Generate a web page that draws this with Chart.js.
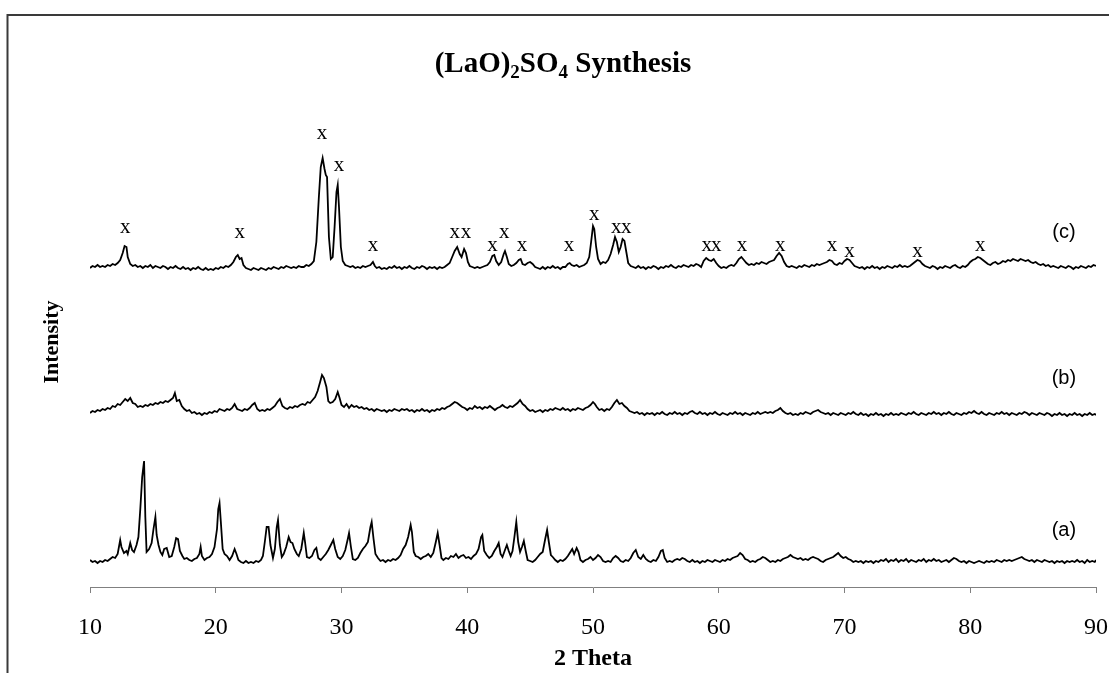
<!DOCTYPE html>
<html>
<head>
<meta charset="utf-8">
<script src="https://cdn.jsdelivr.net/npm/chart.js@4.4.0/dist/chart.umd.min.js"></script>
<style>
  body { margin: 0; background: #fff; }
</style>
</head>
<body>
<canvas id="xrdChart" width="1109" height="673"></canvas>
<script>
// 2-theta / intensity pairs (intensity already includes the vertical offset of each pattern)
const seriesA = [
  [10.0,27],[10.2,25],[10.4,26],[10.6,24],[10.8,26],[11.0,25],[11.2,27],[11.4,26],[11.6,28],[11.8,30],
  [12.0,29],[12.2,33],[12.4,47],[12.5,40],[12.7,34],[12.9,36],[13.0,33],[13.2,44],[13.35,37],[13.5,35],
  [13.7,42],[13.85,50],[14.0,78],[14.15,110],[14.3,126],[14.4,70],[14.5,35],[14.7,38],[14.9,44],[15.05,58],
  [15.2,70],[15.3,52],[15.45,42],[15.6,35],[15.75,32],[15.9,38],[16.1,39],[16.3,30],[16.5,31],[16.7,40],
  [16.85,49],[17.0,48],[17.15,36],[17.35,31],[17.5,28],[17.7,29],[17.9,27],[18.1,26],[18.3,28],[18.5,29],
  [18.7,33],[18.8,40],[18.9,31],[19.1,27],[19.3,29],[19.5,30],[19.7,33],[19.9,40],[20.1,58],[20.2,78],
  [20.3,84],[20.4,66],[20.55,38],[20.7,33],[20.9,31],[21.1,27],[21.3,31],[21.5,38],[21.65,33],[21.8,27],
  [22.0,25],[22.2,24],[22.4,26],[22.6,24],[22.8,25],[23.0,24],[23.2,26],[23.4,25],[23.6,27],[23.75,31],
  [23.9,45],[24.05,60],[24.2,60],[24.35,42],[24.55,29],[24.7,38],[24.85,60],[24.95,67],[25.1,42],[25.25,30],
  [25.4,33],[25.6,40],[25.8,50],[25.95,45],[26.1,44],[26.25,38],[26.45,33],[26.6,31],[26.8,38],[27.0,54],
  [27.1,45],[27.25,30],[27.45,29],[27.65,31],[27.85,37],[28.0,39],[28.15,29],[28.35,27],[28.55,30],[28.75,33],
  [28.95,37],[29.15,42],[29.35,47],[29.5,38],[29.7,30],[29.9,28],[30.1,31],[30.3,37],[30.5,48],[30.6,54],
  [30.75,40],[30.9,28],[31.1,27],[31.3,29],[31.5,34],[31.7,38],[31.9,41],[32.1,45],[32.3,60],[32.4,65],
  [32.55,48],[32.7,33],[32.9,29],[33.1,26],[33.3,27],[33.5,25],[33.7,27],[33.9,26],[34.1,28],[34.3,27],
  [34.5,29],[34.7,32],[34.9,38],[35.1,42],[35.3,50],[35.5,62],[35.6,55],[35.75,35],[35.9,31],[36.1,30],
  [36.3,28],[36.5,30],[36.7,31],[36.9,33],[37.1,30],[37.3,34],[37.5,45],[37.65,54],[37.8,42],[37.95,29],
  [38.1,27],[38.3,29],[38.5,28],[38.7,31],[38.9,30],[39.1,33],[39.3,29],[39.5,31],[39.7,32],[39.9,29],
  [40.1,30],[40.3,28],[40.5,31],[40.7,33],[40.9,38],[41.1,50],[41.2,52],[41.35,36],[41.55,32],[41.75,29],
  [41.95,31],[42.15,36],[42.35,40],[42.5,44],[42.65,33],[42.8,30],[43.0,37],[43.15,42],[43.3,36],[43.45,31],
  [43.6,36],[43.75,50],[43.9,65],[44.05,45],[44.2,35],[44.35,40],[44.5,46],[44.65,36],[44.8,27],[45.0,26],
  [45.2,25],[45.4,27],[45.6,30],[45.8,33],[46.0,35],[46.2,48],[46.35,57],[46.5,44],[46.65,32],[46.8,30],
  [47.0,27],[47.2,25],[47.4,27],[47.6,26],[47.8,28],[48.0,31],[48.2,35],[48.35,38],[48.5,33],[48.7,39],
  [48.85,35],[49.0,27],[49.2,25],[49.4,27],[49.6,28],[49.8,30],[50.0,27],[50.2,29],[50.4,32],[50.6,30],
  [50.8,26],[51.0,25],[51.2,26],[51.4,25],[51.6,29],[51.8,31],[52.0,29],[52.2,26],[52.4,25],[52.6,27],
  [52.8,26],[53.0,29],[53.2,34],[53.4,37],[53.6,30],[53.8,28],[54.0,32],[54.2,28],[54.4,26],[54.6,25],
  [54.8,27],[55.0,26],[55.2,30],[55.4,36],[55.55,37],[55.7,29],[55.9,25],[56.1,26],[56.3,25],[56.5,27],
  [56.7,28],[56.9,27],[57.1,29],[57.3,28],[57.5,26],[57.7,25],[57.9,27],[58.1,25],[58.3,26],[58.5,24],
  [58.7,26],[58.9,25],[59.1,27],[59.3,26],[59.5,25],[59.7,27],[59.9,26],[60.1,25],[60.3,27],[60.5,26],
  [60.7,28],[60.9,27],[61.1,29],[61.3,30],[61.5,31],[61.7,34],[61.9,32],[62.1,28],[62.3,27],[62.5,25],
  [62.7,26],[62.9,25],[63.1,27],[63.3,28],[63.5,30],[63.7,29],[63.9,27],[64.1,25],[64.3,26],[64.5,25],
  [64.7,27],[64.9,26],[65.1,28],[65.3,29],[65.5,30],[65.7,32],[65.9,30],[66.1,29],[66.3,28],[66.5,29],
  [66.7,27],[66.9,28],[67.1,27],[67.3,29],[67.5,30],[67.7,29],[67.9,28],[68.1,26],[68.3,25],[68.5,27],
  [68.7,28],[68.9,29],[69.1,30],[69.3,32],[69.5,34],[69.7,31],[69.9,29],[70.1,30],[70.3,28],[70.5,27],
  [70.7,25],[70.9,26],[71.1,25],[71.3,26],[71.5,24],[71.7,26],[71.9,25],[72.1,26],[72.3,24],[72.5,26],
  [72.7,25],[72.9,27],[73.1,26],[73.3,28],[73.5,25],[73.7,27],[73.9,26],[74.1,28],[74.3,25],[74.5,27],
  [74.7,26],[74.9,28],[75.1,25],[75.3,27],[75.5,26],[75.7,25],[75.9,27],[76.1,26],[76.3,28],[76.5,25],
  [76.7,27],[76.9,26],[77.1,28],[77.3,26],[77.5,27],[77.7,25],[77.9,26],[78.1,27],[78.3,25],[78.5,27],
  [78.7,29],[78.9,28],[79.1,26],[79.3,25],[79.5,26],[79.7,24],[79.9,26],[80.1,25],[80.3,24],[80.5,25],
  [80.7,26],[80.9,25],[81.1,24],[81.3,26],[81.5,25],[81.7,26],[81.9,25],[82.1,27],[82.3,26],[82.5,25],
  [82.7,27],[82.9,26],[83.1,27],[83.3,26],[83.5,27],[83.7,28],[83.9,29],[84.1,30],[84.3,28],[84.5,27],
  [84.7,26],[84.9,27],[85.1,25],[85.3,27],[85.5,26],[85.7,25],[85.9,27],[86.1,26],[86.3,25],[86.5,26],
  [86.7,24],[86.9,26],[87.1,25],[87.3,26],[87.5,24],[87.7,26],[87.9,25],[88.1,26],[88.3,25],[88.5,27],
  [88.7,25],[88.9,26],[89.1,24],[89.3,27],[89.5,25],[89.7,26],[89.9,25],[90.0,27]
];

const seriesB = [
  [10.0,174],[10.2,176],[10.4,175],[10.6,177],[10.8,176],[11.0,178],[11.2,177],[11.4,179],[11.6,178],[11.8,181],
  [12.0,180],[12.2,183],[12.4,182],[12.6,185],[12.8,188],[13.0,186],[13.2,189],[13.4,184],[13.6,183],[13.8,180],
  [14.0,181],[14.2,180],[14.4,182],[14.6,181],[14.8,183],[15.0,182],[15.2,184],[15.4,183],[15.6,185],[15.8,184],
  [16.0,186],[16.2,185],[16.4,187],[16.6,189],[16.75,194],[16.9,186],[17.1,187],[17.3,181],[17.5,178],[17.7,176],
  [17.9,177],[18.1,174],[18.3,175],[18.5,173],[18.7,174],[18.9,172],[19.1,174],[19.3,173],[19.5,175],[19.7,174],
  [19.9,176],[20.1,175],[20.3,178],[20.5,177],[20.7,176],[20.9,178],[21.1,177],[21.3,179],[21.5,183],[21.7,178],
  [21.9,177],[22.1,176],[22.3,178],[22.5,177],[22.7,179],[22.9,182],[23.1,184],[23.3,178],[23.5,176],[23.7,177],
  [23.9,176],[24.1,178],[24.3,177],[24.5,179],[24.7,181],[24.9,185],[25.1,188],[25.3,181],[25.5,179],[25.7,178],
  [25.9,180],[26.1,179],[26.3,181],[26.5,180],[26.7,182],[26.9,183],[27.1,182],[27.3,185],[27.5,184],[27.7,187],
  [27.9,190],[28.1,196],[28.3,205],[28.45,212],[28.6,209],[28.8,200],[28.95,186],[29.1,184],[29.3,185],[29.5,188],
  [29.7,195],[29.85,189],[30.0,182],[30.2,180],[30.4,183],[30.6,179],[30.8,182],[31.0,180],[31.2,181],[31.4,179],
  [31.6,180],[31.8,178],[32.0,179],[32.2,177],[32.4,178],[32.6,176],[32.8,178],[33.0,177],[33.2,176],[33.4,177],
  [33.6,175],[33.8,177],[34.0,176],[34.2,178],[34.4,177],[34.6,176],[34.8,178],[35.0,177],[35.2,178],[35.4,176],
  [35.6,177],[35.8,175],[36.0,177],[36.2,176],[36.4,178],[36.6,176],[36.8,177],[37.0,175],[37.2,177],[37.4,176],
  [37.6,178],[37.8,177],[38.0,179],[38.2,178],[38.4,180],[38.6,181],[38.8,183],[39.0,185],[39.2,184],[39.4,182],
  [39.6,180],[39.8,179],[40.0,177],[40.2,179],[40.4,178],[40.6,181],[40.8,179],[41.0,180],[41.2,178],[41.4,180],
  [41.6,179],[41.8,181],[42.0,179],[42.2,177],[42.4,179],[42.6,180],[42.8,182],[43.0,180],[43.2,179],[43.4,181],
  [43.6,180],[43.8,182],[44.0,184],[44.2,187],[44.4,183],[44.6,181],[44.8,178],[45.0,176],[45.2,177],[45.4,175],
  [45.6,176],[45.8,177],[46.0,175],[46.2,177],[46.4,176],[46.6,178],[46.8,177],[47.0,179],[47.2,178],[47.4,177],
  [47.6,179],[47.8,177],[48.0,178],[48.2,176],[48.4,178],[48.6,177],[48.8,179],[49.0,178],[49.2,177],[49.4,179],
  [49.6,180],[49.8,182],[50.0,185],[50.15,183],[50.3,180],[50.5,177],[50.7,178],[50.9,176],[51.1,178],[51.3,177],
  [51.5,180],[51.7,184],[51.9,187],[52.1,183],[52.3,184],[52.5,181],[52.7,179],[52.9,176],[53.1,175],[53.3,174],
  [53.5,175],[53.7,173],[53.9,174],[54.1,172],[54.3,174],[54.5,173],[54.7,174],[54.9,172],[55.1,174],[55.3,173],
  [55.5,175],[55.7,173],[55.9,172],[56.1,174],[56.3,173],[56.5,175],[56.7,173],[56.9,174],[57.1,172],[57.3,174],
  [57.5,173],[57.7,175],[57.9,176],[58.1,174],[58.3,173],[58.5,175],[58.7,173],[58.9,174],[59.1,172],[59.3,174],
  [59.5,173],[59.7,175],[59.9,173],[60.1,172],[60.3,174],[60.5,173],[60.7,172],[60.9,174],[61.1,173],[61.3,175],
  [61.5,173],[61.7,174],[61.9,172],[62.1,174],[62.3,173],[62.5,172],[62.7,174],[62.9,173],[63.1,175],[63.3,173],
  [63.5,174],[63.7,175],[63.9,174],[64.1,175],[64.3,174],[64.5,176],[64.7,177],[64.9,179],[65.1,176],[65.3,174],
  [65.5,173],[65.7,174],[65.9,172],[66.1,173],[66.3,172],[66.5,174],[66.7,173],[66.9,175],[67.1,174],[67.3,173],
  [67.5,175],[67.7,176],[67.9,177],[68.1,175],[68.3,174],[68.5,173],[68.7,174],[68.9,172],[69.1,174],[69.3,173],
  [69.5,172],[69.7,174],[69.9,173],[70.1,172],[70.3,174],[70.5,173],[70.7,175],[70.9,173],[71.1,172],[71.3,174],
  [71.5,172],[71.7,173],[71.9,171],[72.1,173],[72.3,172],[72.5,174],[72.7,172],[72.9,173],[73.1,171],[73.3,173],
  [73.5,172],[73.7,174],[73.9,172],[74.1,173],[74.3,172],[74.5,174],[74.7,173],[74.9,172],[75.1,174],[75.3,173],
  [75.5,175],[75.7,173],[75.9,172],[76.1,174],[76.3,173],[76.5,172],[76.7,174],[76.9,173],[77.1,175],[77.3,173],
  [77.5,174],[77.7,172],[77.9,174],[78.1,173],[78.3,175],[78.5,173],[78.7,172],[78.9,174],[79.1,173],[79.3,172],
  [79.5,174],[79.7,173],[79.9,175],[80.1,174],[80.3,176],[80.5,174],[80.7,173],[80.9,175],[81.1,173],[81.3,172],
  [81.5,174],[81.7,173],[81.9,172],[82.1,174],[82.3,173],[82.5,175],[82.7,173],[82.9,174],[83.1,172],[83.3,174],
  [83.5,173],[83.7,172],[83.9,174],[84.1,173],[84.3,175],[84.5,174],[84.7,172],[84.9,174],[85.1,173],[85.3,172],
  [85.5,174],[85.7,173],[85.9,172],[86.1,174],[86.3,173],[86.5,171],[86.7,173],[86.9,172],[87.1,174],[87.3,172],
  [87.5,173],[87.7,171],[87.9,173],[88.1,172],[88.3,174],[88.5,172],[88.7,173],[88.9,171],[89.1,173],[89.3,172],
  [89.5,174],[89.7,172],[89.9,173],[90.0,172]
];

const seriesC = [
  [10.0,319],[10.2,321],[10.4,320],[10.6,322],[10.8,320],[11.0,321],[11.2,320],[11.4,322],[11.6,321],[11.8,323],
  [12.0,322],[12.2,324],[12.4,327],[12.6,334],[12.75,341],[12.9,340],[13.0,330],[13.2,323],[13.4,321],[13.6,322],
  [13.8,320],[14.0,321],[14.2,319],[14.4,321],[14.6,320],[14.8,322],[15.0,319],[15.2,321],[15.4,320],[15.6,319],
  [15.8,321],[16.0,320],[16.2,318],[16.4,320],[16.6,319],[16.8,321],[17.0,319],[17.2,318],[17.4,320],[17.6,318],
  [17.8,319],[18.0,317],[18.2,319],[18.4,318],[18.6,320],[18.8,318],[19.0,317],[19.2,319],[19.4,317],[19.6,318],
  [19.8,317],[20.0,319],[20.2,318],[20.4,320],[20.6,319],[20.8,321],[21.0,320],[21.2,322],[21.4,325],[21.6,330],
  [21.75,332],[21.9,328],[22.05,329],[22.2,322],[22.4,319],[22.6,318],[22.8,317],[23.0,319],[23.2,318],[23.4,317],
  [23.6,319],[23.8,318],[24.0,317],[24.2,319],[24.4,318],[24.6,320],[24.8,319],[25.0,318],[25.2,320],[25.4,319],
  [25.6,321],[25.8,320],[26.0,319],[26.2,320],[26.4,319],[26.6,321],[26.8,320],[27.0,320],[27.2,322],[27.4,321],
  [27.6,323],[27.8,326],[28.0,345],[28.2,390],[28.35,420],[28.5,429],[28.65,418],[28.75,412],[28.85,410],[29.0,350],
  [29.15,328],[29.3,330],[29.45,360],[29.6,395],[29.7,402],[29.8,380],[29.95,340],[30.1,326],[30.3,322],[30.5,321],
  [30.7,320],[30.9,321],[31.1,319],[31.3,320],[31.5,319],[31.7,321],[31.9,320],[32.1,321],[32.3,322],[32.5,325],
  [32.65,321],[32.8,319],[33.0,320],[33.2,318],[33.4,319],[33.6,318],[33.8,320],[34.0,319],[34.2,321],[34.4,319],
  [34.6,320],[34.8,318],[35.0,320],[35.2,319],[35.4,321],[35.6,319],[35.8,318],[36.0,320],[36.2,319],[36.4,321],
  [36.6,320],[36.8,318],[37.0,320],[37.2,319],[37.4,320],[37.6,318],[37.8,320],[38.0,319],[38.2,320],[38.4,322],
  [38.6,324],[38.8,330],[39.0,336],[39.2,340],[39.4,333],[39.55,330],[39.75,338],[39.9,334],[40.05,325],[40.2,321],
  [40.4,320],[40.6,319],[40.8,320],[41.0,319],[41.2,320],[41.4,321],[41.6,322],[41.8,325],[42.0,331],[42.15,332],
  [42.3,326],[42.5,322],[42.7,325],[42.9,333],[43.0,336],[43.15,330],[43.3,323],[43.5,321],[43.7,322],[43.9,324],
  [44.1,327],[44.25,328],[44.4,323],[44.6,322],[44.8,324],[45.0,325],[45.2,323],[45.4,320],[45.6,319],[45.8,318],
  [46.0,320],[46.2,318],[46.4,320],[46.6,319],[46.8,321],[47.0,319],[47.2,320],[47.4,318],[47.6,320],[47.8,320],
  [48.0,323],[48.15,324],[48.3,322],[48.5,321],[48.7,322],[48.9,320],[49.1,321],[49.3,322],[49.5,324],[49.7,330],
  [49.85,345],[50.0,361],[50.1,358],[50.25,340],[50.4,328],[50.6,323],[50.8,325],[51.0,324],[51.2,327],[51.4,333],
  [51.6,342],[51.75,350],[51.9,345],[52.05,335],[52.2,340],[52.35,348],[52.5,346],[52.65,335],[52.8,324],[53.0,321],
  [53.2,320],[53.4,319],[53.6,321],[53.8,319],[54.0,320],[54.2,318],[54.4,320],[54.6,319],[54.8,321],[55.0,320],
  [55.2,318],[55.4,320],[55.6,319],[55.8,321],[56.0,320],[56.2,322],[56.4,320],[56.6,319],[56.8,321],[57.0,320],
  [57.2,322],[57.4,321],[57.6,320],[57.8,322],[58.0,321],[58.2,323],[58.4,322],[58.6,320],[58.8,326],[59.0,329],
  [59.2,327],[59.4,326],[59.6,328],[59.8,324],[60.0,321],[60.2,319],[60.4,320],[60.6,319],[60.8,321],[61.0,322],
  [61.2,321],[61.4,324],[61.6,328],[61.8,330],[62.0,327],[62.2,324],[62.4,322],[62.6,323],[62.8,322],[63.0,324],
  [63.2,323],[63.4,325],[63.6,324],[63.8,323],[64.0,325],[64.2,326],[64.4,327],[64.6,331],[64.8,334],[65.0,331],
  [65.2,325],[65.4,321],[65.6,320],[65.8,321],[66.0,320],[66.2,319],[66.4,321],[66.6,320],[66.8,322],[67.0,321],
  [67.2,320],[67.4,322],[67.6,321],[67.8,323],[68.0,322],[68.2,323],[68.4,324],[68.6,325],[68.8,327],[69.0,326],
  [69.2,323],[69.4,322],[69.6,324],[69.8,323],[70.0,326],[70.2,328],[70.4,327],[70.6,324],[70.8,321],[71.0,320],
  [71.2,319],[71.4,320],[71.6,318],[71.8,320],[72.0,319],[72.2,321],[72.4,319],[72.6,320],[72.8,318],[73.0,320],
  [73.2,319],[73.4,321],[73.6,320],[73.8,319],[74.0,321],[74.2,320],[74.4,322],[74.6,320],[74.8,321],[75.0,320],
  [75.2,321],[75.4,323],[75.6,325],[75.8,327],[76.0,326],[76.2,323],[76.4,321],[76.6,320],[76.8,319],[77.0,321],
  [77.2,320],[77.4,318],[77.6,320],[77.8,319],[78.0,321],[78.2,320],[78.4,319],[78.6,321],[78.8,322],[79.0,320],
  [79.2,319],[79.4,321],[79.6,320],[79.8,322],[80.0,325],[80.2,327],[80.4,328],[80.6,330],[80.8,329],[81.0,327],
  [81.2,325],[81.4,323],[81.6,322],[81.8,324],[82.0,325],[82.2,323],[82.4,324],[82.6,326],[82.8,325],[83.0,327],
  [83.2,326],[83.4,328],[83.6,327],[83.8,326],[84.0,328],[84.2,327],[84.4,326],[84.6,327],[84.8,325],[85.0,324],
  [85.2,325],[85.4,323],[85.6,322],[85.8,323],[86.0,321],[86.2,322],[86.4,320],[86.6,321],[86.8,320],[87.0,319],
  [87.2,321],[87.4,320],[87.6,319],[87.8,321],[88.0,320],[88.2,318],[88.4,320],[88.6,319],[88.8,321],[89.0,320],
  [89.2,319],[89.4,321],[89.6,320],[89.8,322],[90.0,321]
];

// "x" peak marks on pattern (c)
const markTheta = [12.8, 21.9, 28.45, 29.8, 32.5, 39.0, 39.9, 42.0, 42.95, 44.35, 48.1, 50.1, 51.85, 52.65, 59.05, 59.8, 61.85, 64.9, 69.0, 70.4, 75.8, 80.8];
const markLevel = [359, 354, 453, 421, 341, 354, 354, 341, 354, 341, 341, 372, 359, 359, 341, 341, 341, 341, 341, 335, 335, 341];

// pattern names
const patternNames = ['(a)', '(b)', '(c)'];
const nameTheta = [87.45, 87.45, 87.45];
const nameLevel = [57, 209, 355];

const xTicks = [10, 20, 30, 40, 50, 60, 70, 80, 90];

const toPoints = (pairs) => pairs.map(p => ({ x: p[0], y: p[1] }));

const extras = {
  id: 'extras',
  afterDatasetsDraw(chart) {
    const { ctx, scales: { x, y } } = chart;
    ctx.save();

    // outer frame (top + left edge only, the rest is cropped)
    ctx.strokeStyle = '#3a3a3a';
    ctx.lineWidth = 2;
    ctx.beginPath();
    ctx.moveTo(7.5, 673);
    ctx.lineTo(7.5, 15);
    ctx.lineTo(1109, 15);
    ctx.stroke();

    ctx.fillStyle = '#000';

    // peak marks
    ctx.font = '21px "Liberation Serif"';
    ctx.textAlign = 'center';
    ctx.textBaseline = 'alphabetic';
    markTheta.forEach((t, i) => {
      ctx.fillText('x', x.getPixelForValue(t), y.getPixelForValue(markLevel[i]) + 5);
    });

    // pattern labels
    ctx.font = '20px "Liberation Sans"';
    ctx.textBaseline = 'middle';
    patternNames.forEach((n, i) => {
      ctx.fillText(n, x.getPixelForValue(nameTheta[i]), y.getPixelForValue(nameLevel[i]));
    });

    // title with subscripts
    const parts = [['(LaO)', false], ['2', true], ['SO', false], ['4', true], [' Synthesis', false]];
    const bigFont = 'bold 29px "Liberation Serif"';
    const smallFont = 'bold 19px "Liberation Serif"';
    let total = 0;
    parts.forEach(p => {
      ctx.font = p[1] ? smallFont : bigFont;
      total += ctx.measureText(p[0]).width;
    });
    let cx = 563 - total / 2;
    const base = 72;
    ctx.textAlign = 'left';
    ctx.textBaseline = 'alphabetic';
    parts.forEach(p => {
      ctx.font = p[1] ? smallFont : bigFont;
      ctx.fillText(p[0], cx, p[1] ? base + 6 : base);
      cx += ctx.measureText(p[0]).width;
    });

    // y axis title
    ctx.translate(52, 342);
    ctx.rotate(-Math.PI / 2);
    ctx.font = 'bold 22px "Liberation Serif"';
    ctx.textAlign = 'center';
    ctx.textBaseline = 'middle';
    ctx.fillText('Intensity', 0, 0);

    ctx.restore();
  }
};

const chartEl = document.getElementById('xrdChart');

new Chart(chartEl, {
  type: 'line',
  data: {
    datasets: [
      { label: '(a)', data: toPoints(seriesA) },
      { label: '(b)', data: toPoints(seriesB) },
      { label: '(c)', data: toPoints(seriesC) }
    ]
  },
  options: {
    responsive: false,
    animation: false,
    events: [],
    layout: { padding: { left: 90, right: 13, top: 87, bottom: 0 } },
    elements: {
      line: { borderColor: '#000', borderWidth: 1.8, tension: 0 },
      point: { radius: 0 }
    },
    plugins: {
      legend: { display: false },
      tooltip: { enabled: false }
    },
    scales: {
      x: {
        type: 'linear',
        min: 10,
        max: 90,
        afterBuildTicks: (s) => { s.ticks = xTicks.map(v => ({ value: v })); },
        afterFit: (s) => { s.height = 86; s.paddingLeft = 0; s.paddingRight = 0; },
        ticks: {
          padding: 20,
          color: '#000',
          font: { family: 'Liberation Serif', size: 24 }
        },
        grid: { drawOnChartArea: false, drawTicks: true, tickLength: 6, color: '#808080' },
        border: { color: '#808080', width: 1 },
        title: {
          display: true,
          text: '2 Theta',
          color: '#000',
          padding: { top: 0, bottom: 0 },
          font: { family: 'Liberation Serif', size: 24, weight: 'bold' }
        }
      },
      y: {
        display: false,
        min: 0,
        max: 500
      }
    }
  },
  plugins: [extras]
});
</script>
</body>
</html>
